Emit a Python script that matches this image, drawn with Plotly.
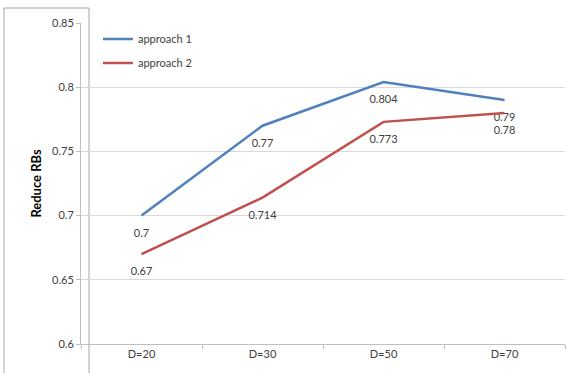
import plotly.graph_objects as go

categories = ["D=20", "D=30", "D=50", "D=70"]
approach_1 = [0.7, 0.77, 0.804, 0.79]
approach_2 = [0.67, 0.714, 0.773, 0.78]
y_ticks = [0.6, 0.65, 0.7, 0.75, 0.8, 0.85]
y_tick_labels = ["0.6", "0.65", "0.7", "0.75", "0.8", "0.85"]

FONT = "Lato, 'Open Sans', sans-serif"
TEXT = "#404040"

fig = go.Figure()
for name, vals, color in [("approach 1", approach_1, "#4F81BD"),
                          ("approach 2", approach_2, "#C0504D")]:
    fig.add_trace(go.Scatter(
        x=categories, y=vals, name=name, legendgroup=name,
        mode="lines+markers+text",
        line=dict(color=color, width=2.5),
        # invisible markers only set the label offset below each point
        marker=dict(size=19, color="rgba(0,0,0,0)"),
        text=[f"{v:g}" for v in vals], textposition="bottom center",
        textfont=dict(family=FONT, size=11, color=TEXT),
        cliponaxis=False, hoverinfo="x+y",
    ))

fig.update_layout(
    width=574, height=373,
    margin=dict(l=81, r=9, t=23, b=29),
    paper_bgcolor="white", plot_bgcolor="white",
    font=dict(family=FONT, size=11, color=TEXT),
    showlegend=True,
    legend=dict(x=0.035, y=0.995, xanchor="left", yanchor="top",
                bgcolor="rgba(0,0,0,0)", font=dict(size=11, color=TEXT),
                itemwidth=30, tracegroupgap=5),
    xaxis=dict(type="category", range=[-0.5, 3.5], showgrid=False,
               showline=True, linecolor="#BFBFBF", linewidth=1,
               ticks="outside", tickson="boundaries", ticklen=4,
               tickcolor="#BFBFBF", tickfont=dict(size=11, color=TEXT)),
    yaxis=dict(range=[0.6, 0.85], tickvals=y_ticks, ticktext=y_tick_labels,
               showgrid=True, gridcolor="#D9D9D9", gridwidth=1,
               showline=True, linecolor="#BFBFBF", linewidth=1,
               ticks="outside", ticklen=4, tickcolor="#BFBFBF",
               zeroline=False, tickfont=dict(size=11, color=TEXT),
               title=dict(text="<b>Reduce RBs</b>", standoff=7,
                          font=dict(size=13, color="#000000"))),
)

# chart-area border
fig.add_shape(type="rect", xref="paper", yref="paper",
              x0=-77/484, x1=8/484, y0=-40/321, y1=1 + 15/321,
              line=dict(color="#A6A6A6", width=1), layer="below")

fig.write_html("out.html")
